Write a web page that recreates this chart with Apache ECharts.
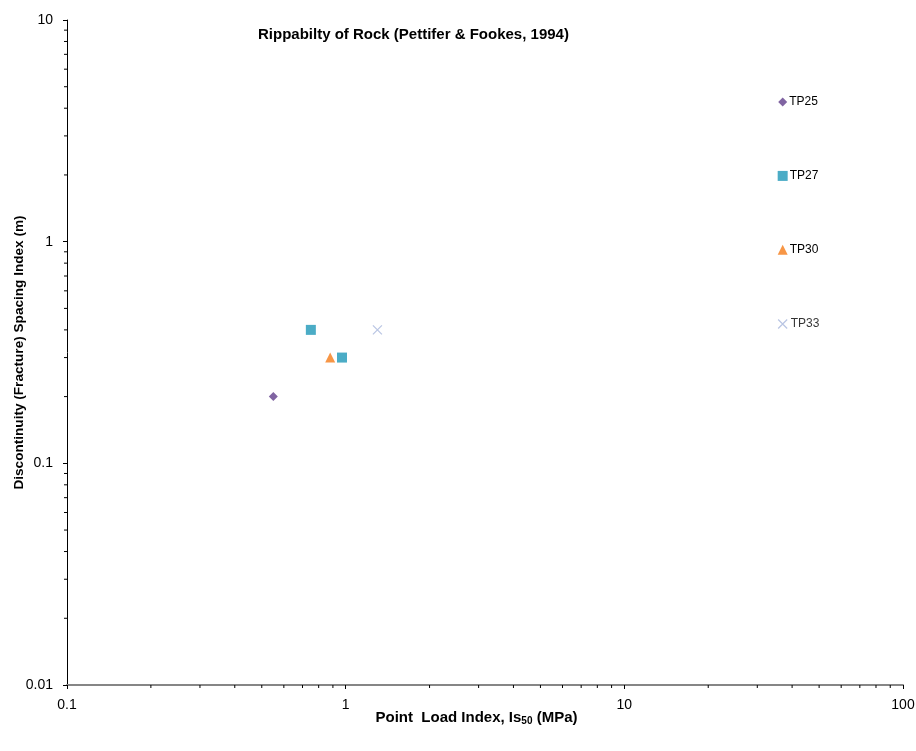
<!DOCTYPE html>
<html>
<head>
<meta charset="utf-8">
<script src="https://cdn.jsdelivr.net/npm/echarts@6/dist/echarts.min.js"></script>
<style>html,body{margin:0;padding:0;background:#fff;}#c{width:916px;height:751px;}</style>
</head>
<body>
<div id="c"></div>
<script>
// Data (Point Load Index Is50 [MPa], Spacing Index [m])
const seriesNames = ['TP25', 'TP27', 'TP30', 'TP33'];
const tp25 = [[0.55, 0.2]];
const tp27 = [[0.75, 0.4], [0.97, 0.3]];
const tp30 = [[0.88, 0.3]];
const tp33 = [[1.3, 0.4]];
// Points carrying the series labels (legend-style)
const labelPoints = [[37, 4.27], [37, 1.98], [37, 0.92], [37, 0.425]];
const xMinorTicks = [0.2,0.3,0.4,0.5,0.6,0.7,0.8,0.9, 2,3,4,5,6,7,8,9, 20,30,40,50,60,70,80,90];
const yMinorTicks = [0.02,0.03,0.04,0.05,0.06,0.07,0.08,0.09, 0.2,0.3,0.4,0.5,0.6,0.7,0.8,0.9, 2,3,4,5,6,7,8,9];

const colors = ['#8064A2', '#4BACC6', '#F79646', '#A7B7DC'];
const symbols = ['diamond', 'rect', 'triangle', 'path://M0,0L10,10M10,0L0,10'];
const sizes = [9, 10, 10, 9];
const dataSets = [tp25, tp27, tp30, tp33];

const chart = echarts.init(document.getElementById('c'));
const FONT = 'Liberation Sans, Arial, sans-serif';

const scatterSeries = dataSets.map((d, i) => {
  const isCross = i === 3;
  const pts = d.map(p => ({ value: p }));
  pts.push({ value: labelPoints[i], label: { show: true, formatter: seriesNames[i] } });
  return {
    name: seriesNames[i],
    type: 'scatter',
    data: pts,
    symbol: symbols[i],
    symbolSize: sizes[i],
    itemStyle: isCross ? { color: 'none', borderColor: colors[i], borderWidth: 1.2 } : { color: colors[i], opacity: 1 },
    label: { show: false, position: 'right', distance: isCross ? 1 : 2, color: '#000', fontFamily: FONT, fontSize: 12 },
    z: 5
  };
});

const minorTickSeries = [
  {
    type: 'custom', coordinateSystem: 'cartesian2d', clip: false, silent: true,
    data: xMinorTicks.map(v => [v, 0.01]),
    renderItem: (params, api) => {
      const p = api.coord([api.value(0), api.value(1)]);
      return { type: 'line', shape: { x1: p[0], y1: p[1], x2: p[0], y2: p[1] + 3 }, style: { stroke: '#000', lineWidth: 1 } };
    }
  },
  {
    type: 'custom', coordinateSystem: 'cartesian2d', clip: false, silent: true,
    data: yMinorTicks.map(v => [0.1, v]),
    renderItem: (params, api) => {
      const p = api.coord([api.value(0), api.value(1)]);
      return { type: 'line', shape: { x1: p[0] - 3, y1: p[1], x2: p[0], y2: p[1] }, style: { stroke: '#000', lineWidth: 1 } };
    }
  }
];

chart.setOption({
  animation: false,
  backgroundColor: '#fff',
  title: {
    text: 'Rippabilty of Rock (Pettifer & Fookes, 1994)',
    left: 258, top: 27, padding: 0,
    textStyle: { fontFamily: FONT, fontSize: 15, fontWeight: 'bold', color: '#000' }
  },
  grid: { left: 67, right: 13, top: 20, bottom: 66, containLabel: false, outerBoundsMode: 'none' },
  xAxis: {
    type: 'log', logBase: 10, min: 0.1, max: 100,
    name: 'Point  Load Index, Is{sub|50} (MPa)',
    nameLocation: 'middle', nameGap: 24, nameMoveOverlap: false,
    nameTextStyle: {
      fontFamily: FONT, fontSize: 15, fontWeight: 'bold', color: '#000', padding: [0, 17, 0, 0],
      rich: { sub: { fontFamily: FONT, fontSize: 10, fontWeight: 'bold', color: '#000', verticalAlign: 'bottom', padding: [7, 0, 0, 0] } }
    },
    axisLine: { show: true, lineStyle: { color: '#868686', width: 2 } },
    axisTick: { show: true, length: 4, lineStyle: { color: '#000' } },
    axisLabel: { fontFamily: FONT, fontSize: 14, color: '#000', margin: 13, formatter: v => String(v) },
    splitLine: { show: false },
    minorTick: { show: false }
  },
  yAxis: {
    type: 'log', logBase: 10, min: 0.01, max: 10,
    name: 'Discontinuity (Fracture) Spacing Index (m)',
    nameLocation: 'middle', nameGap: 41, nameMoveOverlap: false,
    nameTextStyle: { fontFamily: FONT, fontSize: 13.6, fontWeight: 'bold', color: '#000' },
    axisLine: { show: true, lineStyle: { color: '#000', width: 1 } },
    axisTick: { show: true, length: 4, lineStyle: { color: '#000' } },
    axisLabel: { fontFamily: FONT, fontSize: 14, color: '#000', margin: 14, formatter: v => String(v) },
    splitLine: { show: false },
    minorTick: { show: false }
  },
  series: scatterSeries.concat(minorTickSeries)
});
</script>
</body>
</html>
